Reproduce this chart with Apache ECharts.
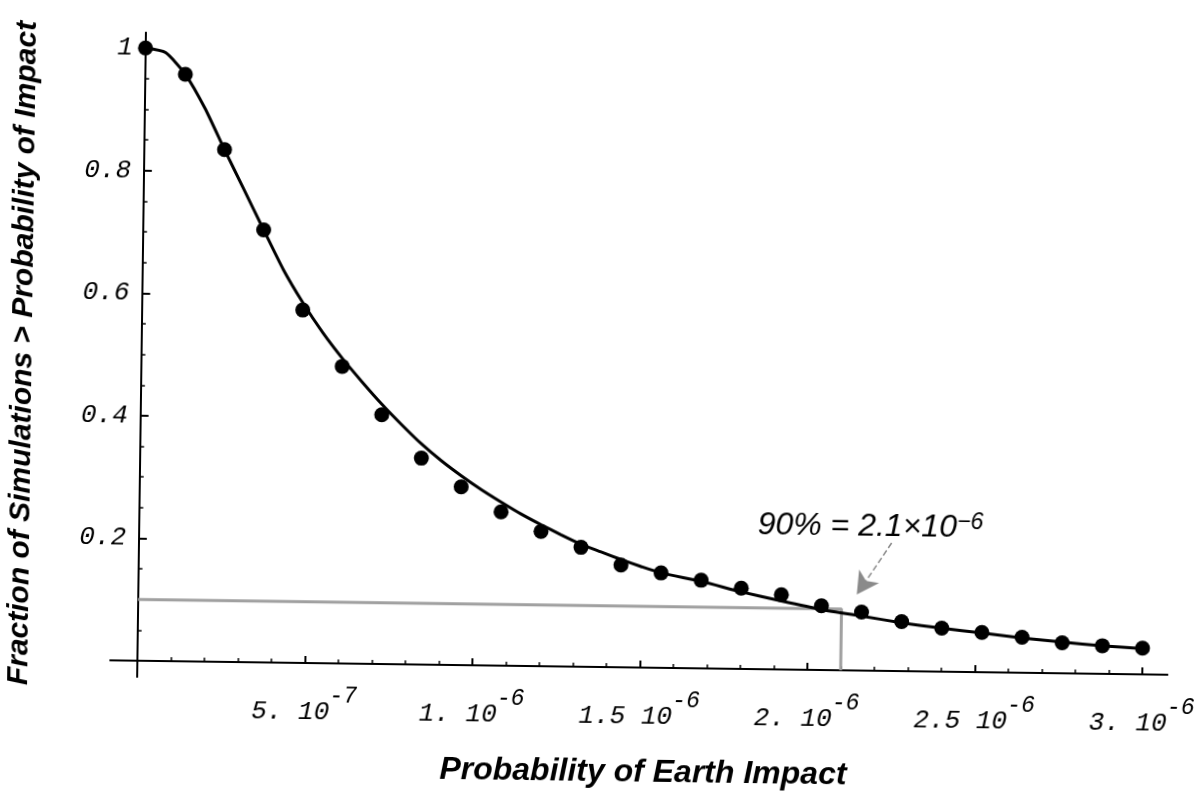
<!DOCTYPE html>
<html>
<head>
<meta charset="utf-8">
<script src="https://cdn.jsdelivr.net/npm/echarts@6/dist/echarts.min.js"></script>
<style>
html, body { margin: 0; padding: 0; background: #fff; overflow: hidden; }
/* the scanned figure sits slightly tilted */
#chart { width: 1202px; height: 796px; transform: rotate(0.78deg); }
</style>
</head>
<body>
<div id="chart"></div>
<script>
// simulation results: probability of earth impact vs fraction of simulations above it
const pointX = [0, 1.2e-7, 2.4e-7, 3.6e-7, 4.8e-7, 6.0e-7, 7.2e-7, 8.4e-7, 9.6e-7, 1.08e-6,
  1.2e-6, 1.32e-6, 1.44e-6, 1.56e-6, 1.68e-6, 1.8e-6, 1.92e-6, 2.04e-6, 2.16e-6, 2.28e-6,
  2.4e-6, 2.52e-6, 2.64e-6, 2.76e-6, 2.88e-6, 3.0e-6];
const pointY = [1.000, 0.958, 0.836, 0.706, 0.576, 0.485, 0.407, 0.337, 0.291, 0.251,
  0.220, 0.195, 0.167, 0.155, 0.144, 0.132, 0.122, 0.105, 0.0955, 0.081,
  0.071, 0.065, 0.058, 0.050, 0.046, 0.043];

// fitted curve
const fitX = [0, 6e-8, 1.2e-7, 1.8e-7, 2.4e-7, 3.0e-7, 3.6e-7, 4.2e-7, 4.8e-7, 5.4e-7,
  6.0e-7, 6.6e-7, 7.2e-7, 7.8e-7, 8.4e-7, 9.0e-7, 9.6e-7, 1.02e-6, 1.08e-6, 1.14e-6,
  1.2e-6, 1.26e-6, 1.32e-6, 1.38e-6, 1.44e-6, 1.5e-6, 1.56e-6, 1.68e-6, 1.8e-6, 1.92e-6,
  2.04e-6, 2.16e-6, 2.28e-6, 2.4e-6, 2.52e-6, 2.64e-6, 2.76e-6, 2.88e-6, 3.0e-6];
const fitY = [1.000, 0.993, 0.958, 0.903, 0.836, 0.771, 0.706, 0.642, 0.588, 0.540,
  0.498, 0.460, 0.424, 0.391, 0.360, 0.333, 0.309, 0.287, 0.267, 0.248,
  0.231, 0.215, 0.200, 0.188, 0.176, 0.165, 0.155, 0.142, 0.126, 0.112,
  0.099, 0.089, 0.079, 0.071, 0.064, 0.057, 0.051, 0.046, 0.042];

// 90% level
const level90X = 2.1e-6;
const level90Y = 0.1;

// tick labels
const xTickValues = [5e-7, 1e-6, 1.5e-6, 2e-6, 2.5e-6, 3e-6];
const xTickMant = ['5.', '1.', '1.5', '2.', '2.5', '3.'];
const xTickExp = ['-7', '-6', '-6', '-6', '-6', '-6'];
const yTickValues = [0.2, 0.4, 0.6, 0.8, 1];
const yTickLabels = ['0.2', '0.4', '0.6', '0.8', '1'];

const xMinorTicks = [];
for (let i = 1; i <= 30; i++) xMinorTicks.push(i * 1e-7);
const yMinorTicks = [];
for (let i = 1; i <= 20; i++) yMinorTicks.push(i * 0.05);

const monoFont = "'Liberation Mono', 'DejaVu Sans Mono', monospace";
const sansFont = "'Liberation Sans', Arial, sans-serif";

function findIdx(list, v) {
  return list.findIndex(t => Math.abs(t - v) < Math.abs(t) * 1e-3 + 1e-12);
}

const xMin = -0.08e-6, xMax = 3.075e-6;
const yMin = -0.026, yMax = 1.025;

const chart = echarts.init(document.getElementById('chart'), null, { renderer: 'canvas' });

// note: with onZero the labels stay at the grid edge, margins are measured from there
const option = {
  animation: false,
  backgroundColor: '#fff',
  title: {
    text: 'Probability of Earth Impact',
    left: 643, top: 751, textAlign: 'center',
    textStyle: { fontFamily: sansFont, fontWeight: 'bold', fontStyle: 'italic', fontSize: 32, color: '#000' }
  },
  grid: { left: 114, right: 31, top: 39, bottom: 113, containLabel: false, outerBoundsMode: 'none' },
  xAxis: [
    {
      type: 'value', min: xMin, max: xMax, position: 'bottom',
      axisLine: { show: true, onZero: true, onZeroAxisIndex: 0, lineStyle: { color: '#000', width: 2 } },
      axisTick: { show: true, inside: true, length: 7, customValues: xTickValues, lineStyle: { color: '#000', width: 2 } },
      axisLabel: {
        customValues: xTickValues, margin: 5,
        formatter: function (v) {
          const i = findIdx(xTickValues, v);
          return i < 0 ? '' : '{m|' + xTickMant[i] + ' 10}{s|' + xTickExp[i] + '}';
        },
        rich: {
          m: { fontFamily: monoFont, fontStyle: 'italic', fontSize: 26, color: '#000', verticalAlign: 'bottom' },
          s: { fontFamily: monoFont, fontStyle: 'italic', fontSize: 23, color: '#000', verticalAlign: 'bottom', padding: [0, 0, 18, 0] }
        }
      },
      splitLine: { show: false }
    },
    {
      type: 'value', min: xMin, max: xMax, position: 'bottom',
      axisLine: { show: true, onZero: true, onZeroAxisIndex: 0, lineStyle: { color: '#000', width: 2 } },
      axisTick: { show: true, inside: true, length: 4, customValues: xMinorTicks, lineStyle: { color: '#000', width: 1.5 } },
      axisLabel: { show: false },
      splitLine: { show: false }
    }
  ],
  yAxis: [
    {
      type: 'value', min: yMin, max: yMax, position: 'left',
      name: 'Fraction of Simulations > Probability of Impact', nameLocation: 'middle', nameGap: 76, nameRotate: 90,
      nameTextStyle: { fontFamily: sansFont, fontWeight: 'bold', fontStyle: 'italic', fontSize: 30, color: '#000' },
      axisLine: { show: true, onZero: true, onZeroAxisIndex: 0, lineStyle: { color: '#000', width: 2 } },
      axisTick: { show: true, inside: true, length: 8, customValues: yTickValues, lineStyle: { color: '#000', width: 2 } },
      axisLabel: {
        customValues: yTickValues, margin: -14,
        fontFamily: monoFont, fontStyle: 'italic', fontSize: 26, color: '#000',
        formatter: function (v) {
          const i = findIdx(yTickValues, v);
          return i < 0 ? '' : yTickLabels[i];
        }
      },
      splitLine: { show: false }
    },
    {
      type: 'value', min: yMin, max: yMax, position: 'left',
      axisLine: { show: true, onZero: true, onZeroAxisIndex: 0, lineStyle: { color: '#000', width: 2 } },
      axisTick: { show: true, inside: true, length: 4, customValues: yMinorTicks, lineStyle: { color: '#000', width: 1.5 } },
      axisLabel: { show: false },
      splitLine: { show: false }
    }
  ],
  series: [
    {
      type: 'line',
      xAxisIndex: 0, yAxisIndex: 0,
      data: [[0, level90Y], [level90X, level90Y], [level90X, 0]],
      showSymbol: false, symbol: 'none',
      lineStyle: { color: '#a0a0a0', width: 3 },
      z: 1,
      markLine: {
        silent: true,
        symbol: ['none', 'arrow'],
        symbolSize: [18, 22],
        label: { show: false },
        lineStyle: { type: 'dashed', color: '#8a8a8a', width: 1.5 },
        data: [[{ coord: [2.247e-6, 0.209] }, { coord: [2.145e-6, 0.124] }]]
      }
    },
    {
      type: 'line',
      xAxisIndex: 0, yAxisIndex: 0,
      data: fitX.map((x, i) => [x, fitY[i]]),
      showSymbol: false, symbol: 'none',
      smooth: 0.2,
      lineStyle: { color: '#000', width: 3 },
      z: 2
    },
    {
      type: 'scatter',
      xAxisIndex: 0, yAxisIndex: 0,
      data: pointX.map((x, i) => [x, pointY[i]]),
      symbol: 'circle', symbolSize: 15,
      itemStyle: { color: '#000', opacity: 1 },
      z: 3,
      markPoint: {
        silent: true,
        symbol: 'circle', symbolSize: 1,
        itemStyle: { color: 'rgba(0,0,0,0)' },
        label: {
          show: true, position: 'right', distance: 0,
          formatter: '{m|90% = 2.1×10}{s|−6}',
          rich: {
            m: { fontFamily: sansFont, fontStyle: 'italic', fontSize: 32, color: '#000', verticalAlign: 'bottom' },
            s: { fontFamily: sansFont, fontStyle: 'italic', fontSize: 23, color: '#000', verticalAlign: 'bottom', padding: [0, 0, 10, 0] }
          }
        },
        data: [{ coord: [1.845e-6, 0.236] }]
      }
    }
  ]
};

chart.setOption(option);
</script>
</body>
</html>
